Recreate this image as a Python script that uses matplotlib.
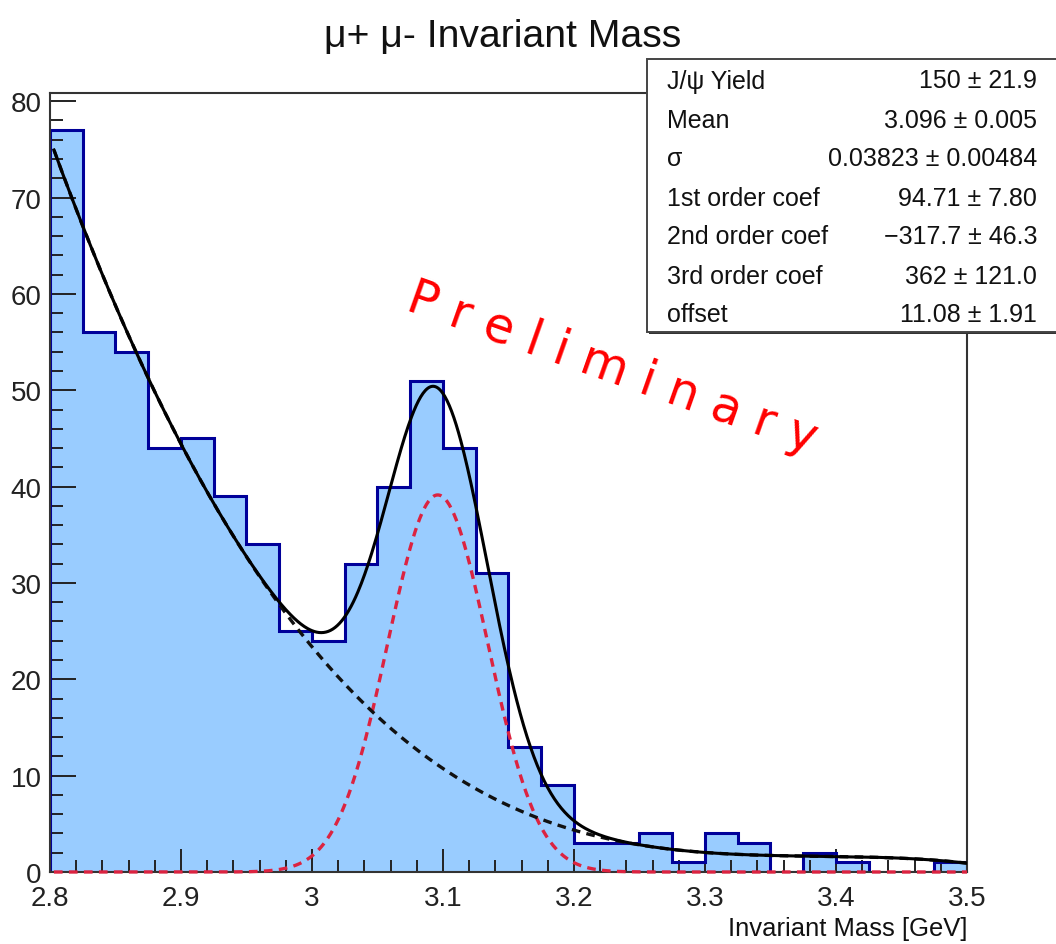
#!/usr/bin/env python3
"""Dimuon invariant mass spectrum around the J/psi with the signal + background fit."""

import matplotlib

matplotlib.use("Agg")
import matplotlib.pyplot as plt
import numpy as np
from matplotlib import font_manager
from matplotlib.patches import Rectangle
from matplotlib.ticker import FixedLocator, MultipleLocator

W, H = 1056, 945

MASS_RANGE = (2.8, 3.5)
# entries per 25 MeV bin
COUNTS = [77, 56, 54, 44, 45, 39, 34, 25, 24, 32, 40, 51, 44, 31,
          13, 9, 3, 3, 4, 1, 4, 3, 0, 2, 1, 0, 0, 1]

# fit result, gaussian signal on a cubic background
JPSI_YIELD = 150.0
JPSI_MEAN = 3.096
JPSI_SIGMA = 0.03823
BKG_COEFS = [94.71, -317.7, 362.0]  # 1st..3rd order in (BKG_PIVOT - m)
BKG_PIVOT = 3.68
BKG_CONST = -7.95

STAT_LABELS = ["J/\u03c8 Yield", "Mean", "\u03c3", "1st order coef",
               "2nd order coef", "3rd order coef", "offset"]
STAT_VALUES = ["150 \u00b1 21.9", "3.096 \u00b1 0.005", "0.03823 \u00b1 0.00484",
               "94.71 \u00b1 7.80", "\u2212317.7 \u00b1 46.3", "362 \u00b1 121.0",
               "11.08 \u00b1 1.91"]

X_TICKS = [2.8, 2.9, 3.0, 3.1, 3.2, 3.3, 3.4, 3.5]
X_TICK_LABELS = ["2.8", "2.9", "3", "3.1", "3.2", "3.3", "3.4", "3.5"]
Y_TICKS = [0, 10, 20, 30, 40, 50, 60, 70, 80]

COLORS = {
    "fill": "#99CCFF",
    "edge": "#000099",
    "total": "#000000",
    "bkg": "#111111",
    "signal": "#DC2340",
    "frame": "#333333",
}


def fx(px: float) -> float:
    return px / W


def fy(py: float) -> float:
    return 1 - py / H


def narrow_font() -> tuple[list[str], float]:
    """Condensed family for the title/axis label, with a size factor to keep the width."""
    try:
        font_manager.findfont("Liberation Sans Narrow", fallback_to_default=False)
        return ["Liberation Sans Narrow", "DejaVu Sans"], 1.0
    except ValueError:
        return ["Liberation Sans", "DejaVu Sans"], 0.84


def signal(m: np.ndarray, bin_width: float) -> np.ndarray:
    norm = JPSI_YIELD * bin_width / (np.sqrt(2 * np.pi) * JPSI_SIGMA)
    return norm * np.exp(-0.5 * ((m - JPSI_MEAN) / JPSI_SIGMA) ** 2)


def background(m: np.ndarray) -> np.ndarray:
    v = BKG_PIVOT - m
    return BKG_CONST + sum(c * v ** (i + 1) for i, c in enumerate(BKG_COEFS))


def draw_stats_box(fig) -> None:
    left, top, bottom, right = 647, 60, 333, 1070
    shadow = Rectangle((fx(left + 2), fy(bottom + 2)), fx(right - left), (bottom - top) / H,
                       transform=fig.transFigure, facecolor="#333333", edgecolor="none", zorder=4)
    box = Rectangle((fx(left), fy(bottom)), fx(right - left), (bottom - top) / H,
                    transform=fig.transFigure, facecolor="white", edgecolor="#444444",
                    linewidth=1.4, zorder=5)
    fig.add_artist(shadow)
    fig.add_artist(box)
    row_h = (bottom - top) / len(STAT_LABELS)
    for i, (label, value) in enumerate(zip(STAT_LABELS, STAT_VALUES)):
        baseline = top + row_h * (i + 0.5) + 9
        fig.text(fx(667), fy(baseline), label, ha="left", va="baseline",
                 fontsize=18, color="#111111", zorder=6)
        fig.text(fx(1037), fy(baseline), value, ha="right", va="baseline",
                 fontsize=18, color="#111111", zorder=6)


def main() -> None:
    plt.rcParams["font.family"] = ["Liberation Sans", "DejaVu Sans"]
    narrow, scale = narrow_font()

    fig = plt.figure(figsize=(W / 100, H / 100), dpi=100)
    ax = fig.add_axes([fx(50), fy(873), fx(967) - fx(50), (873 - 94) / H])

    edges = np.linspace(MASS_RANGE[0], MASS_RANGE[1], len(COUNTS) + 1)
    bin_width = edges[1] - edges[0]
    ax.stairs(COUNTS, edges, fill=True, color=COLORS["fill"], zorder=1)
    ax.stairs(COUNTS, edges, color=COLORS["edge"], linewidth=2.2, zorder=2)

    m = np.linspace(MASS_RANGE[0] + 0.003, MASS_RANGE[1], 800)
    sig = signal(m, bin_width)
    bkg = background(m)
    ax.plot(m, sig, color=COLORS["signal"], linewidth=2.4, dashes=(2.6, 1.9),
            zorder=3, clip_on=False)
    ax.plot(m, bkg, color=COLORS["bkg"], linewidth=2.4, dashes=(2.6, 1.9), zorder=3)
    ax.plot(m, sig + bkg, color=COLORS["total"], linewidth=2.2, zorder=4)

    ax.set_xlim(*MASS_RANGE)
    ax.set_ylim(0, max(COUNTS) * 1.05)

    ax.xaxis.set_major_locator(FixedLocator(X_TICKS))
    ax.set_xticklabels(X_TICK_LABELS)
    ax.xaxis.set_minor_locator(MultipleLocator(0.02))
    ax.yaxis.set_major_locator(FixedLocator(Y_TICKS))
    ax.yaxis.set_minor_locator(MultipleLocator(2))

    ax.tick_params(axis="both", which="both", direction="in", width=1.4, colors="#222222",
                   labelsize=20, top=False, right=False)
    ax.tick_params(axis="y", which="major", length=19, pad=6)
    ax.tick_params(axis="y", which="minor", length=9.5)
    ax.tick_params(axis="x", which="major", length=16.5, pad=9)
    ax.tick_params(axis="x", which="minor", length=8.5)
    for spine in ax.spines.values():
        spine.set_color(COLORS["frame"])
        spine.set_linewidth(1.5)

    fig.text(fx(503), fy(47), "\u03bc+ \u03bc- Invariant Mass", ha="center", va="baseline",
             fontsize=33.5 * scale, color="#111111", family=narrow)
    fig.text(fx(967), fy(936), "Invariant Mass [GeV]", ha="right", va="baseline",
             fontsize=22 * scale, color="#111111", family=narrow)

    draw_stats_box(fig)

    fig.text(fx(612), fy(368), "P r e l i m i n a r y", ha="center", va="center",
             rotation=-19.5, fontsize=35, color="#FF0000", family="DejaVu Sans", zorder=7)

    fig.savefig("out.png", dpi=100)
    plt.close(fig)


if __name__ == "__main__":
    main()
